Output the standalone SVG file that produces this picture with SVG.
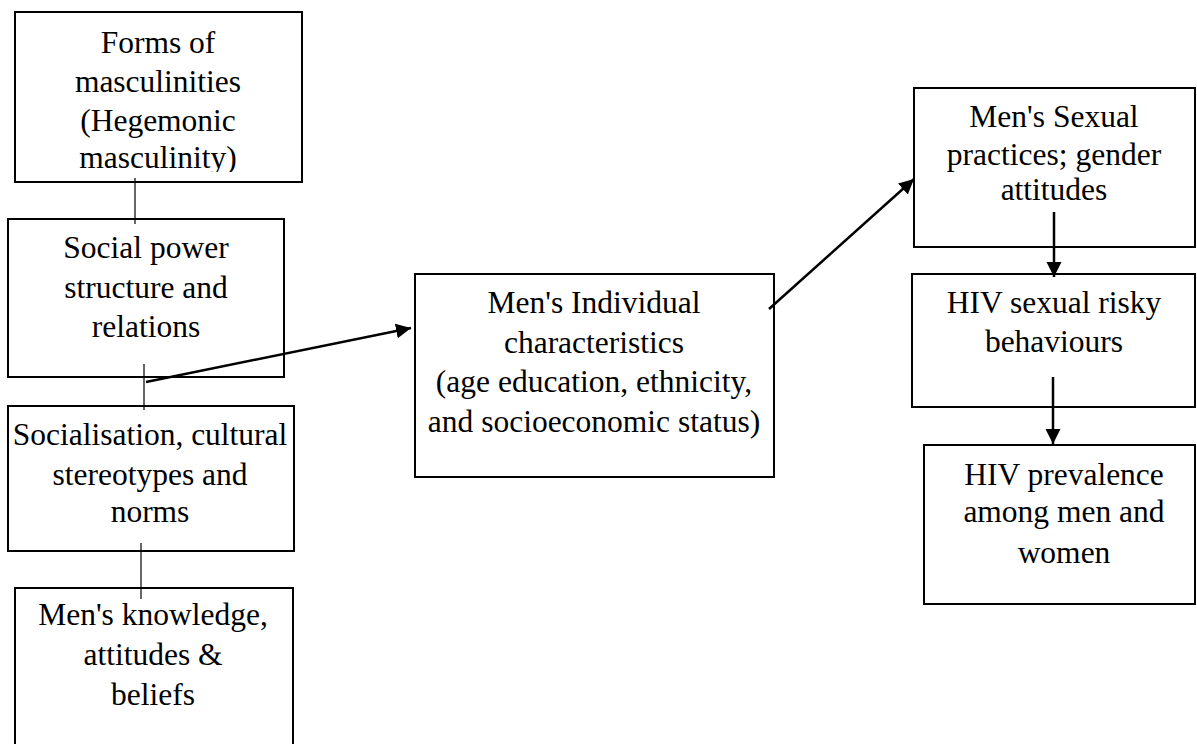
<svg xmlns="http://www.w3.org/2000/svg" width="1197" height="744" viewBox="0 0 1197 744">
<style>
.box{fill:#fff;stroke:#000;stroke-width:2}
.t{font-family:"Liberation Serif","Times New Roman",serif;font-size:31.5px;fill:#000;text-anchor:middle}
.ln{stroke:#000;stroke-width:1.2;fill:none}
.ar{stroke:#000;stroke-width:2.5;fill:none;marker-end:url(#ah)}
</style>
<defs>
<marker id="ah" markerUnits="userSpaceOnUse" markerWidth="16" markerHeight="16" refX="15" refY="8" orient="auto" viewBox="0 0 16 16">
<path d="M0,0.5 L15,8 L0,15.5 Z" fill="#000"/>
</marker>
<clipPath id="c1"><rect x="15" y="12" width="287" height="160"/></clipPath>
</defs>
<g id="n1">
<rect class="box" x="15" y="12" width="287" height="170"/>
<g clip-path="url(#c1)">
<text class="t" x="158" y="53">Forms of</text>
<text class="t" x="158" y="92">masculinities</text>
<text class="t" x="158" y="131">(Hegemonic</text>
<text class="t" x="158" y="168">masculinity)</text>
</g>
</g>
<g id="n2">
<rect class="box" x="8" y="219" width="276" height="158"/>
<text class="t" x="146" y="258">Social power</text>
<text class="t" x="146" y="298">structure and</text>
<text class="t" x="146" y="337">relations</text>
</g>
<g id="n3">
<rect class="box" x="8" y="406" width="286" height="145"/>
<text class="t" x="150" y="445">Socialisation, cultural</text>
<text class="t" x="150" y="485">stereotypes and</text>
<text class="t" x="150" y="522">norms</text>
</g>
<g id="n4">
<rect class="box" x="15" y="588" width="278" height="170"/>
<text class="t" x="153" y="625">Men's knowledge,</text>
<text class="t" x="153" y="665">attitudes &amp;</text>
<text class="t" x="153" y="705">beliefs</text>
</g>
<g id="n5">
<rect class="box" x="415" y="274" width="359" height="203"/>
<text class="t" x="594" y="313">Men's Individual</text>
<text class="t" x="594" y="353">characteristics</text>
<text class="t" x="594" y="392">(age education, ethnicity,</text>
<text class="t" x="594" y="432">and socioeconomic status)</text>
</g>
<g id="n6">
<rect class="box" x="914" y="88" width="281" height="159"/>
<text class="t" x="1054" y="127">Men's Sexual</text>
<text class="t" x="1054" y="165">practices; gender</text>
<text class="t" x="1054" y="200">attitudes</text>
</g>
<g id="n7">
<rect class="box" x="912" y="274" width="283" height="133"/>
<text class="t" x="1054" y="313">HIV sexual risky</text>
<text class="t" x="1054" y="352">behaviours</text>
</g>
<g id="n8">
<rect class="box" x="924" y="445" width="271" height="159"/>
<text class="t" x="1064" y="485">HIV prevalence</text>
<text class="t" x="1064" y="522">among men and</text>
<text class="t" x="1064" y="563">women</text>
</g>
<g id="connectors">
<line class="ln" x1="135" y1="178" x2="135" y2="224"/>
<line class="ln" x1="144" y1="364" x2="144" y2="410"/>
<line class="ln" x1="141" y1="543" x2="141" y2="599"/>
<line class="ar" x1="146" y1="382" x2="411" y2="328"/>
<line class="ar" x1="769" y1="309" x2="914" y2="179"/>
<line class="ar" x1="1054" y1="212" x2="1054" y2="277"/>
<line class="ar" x1="1053" y1="377" x2="1053" y2="444"/>
</g>
</svg>
